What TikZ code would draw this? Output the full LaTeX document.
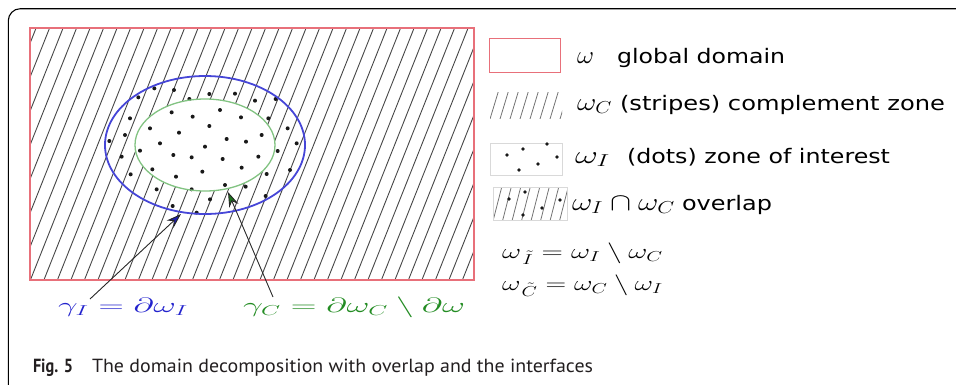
\documentclass[tikz,border=0pt]{standalone}
\usepackage{fontspec}
\usepackage{graphicx}
\usetikzlibrary{arrows.meta}
\newfontfamily\legfont{DejaVu Sans}
\newfontfamily\capfont{PT Sans}
\definecolor{domred}{RGB}{232,112,122}
\definecolor{ellblue}{RGB}{70,70,215}
\definecolor{ellgreen}{RGB}{130,195,130}
\definecolor{labblue}{RGB}{35,35,205}
\definecolor{labgreen}{RGB}{35,140,35}
\definecolor{headblue}{RGB}{30,30,170}
\definecolor{headgreen}{RGB}{30,115,30}
\definecolor{capgray}{RGB}{35,31,32}
\newcommand{\fitw}[2]{\resizebox{#1pt}{\height}{#2}}
\tikzset{
  stripe/.style={draw=black!72, line width=0.9pt},
  swstripe/.style={draw=black!55, line width=0.8pt},
  dotm/.style={fill=black!90},
  lbl/.style={anchor=base west, inner sep=0pt, outer sep=0pt},
  swbox/.style={draw=black!15, line width=0.8pt},
  ptr/.style={draw=black!85, line width=0.9pt},
}
\begin{document}
\begin{tikzpicture}[x=1pt,y=-1pt]
\useasboundingbox (0,0) rectangle (956,384);
% outer frame
\begin{scope}
\clip (0,0) rectangle (956,384);
\draw[line width=1.1pt, rounded corners=12pt] (8.3,8.7) rectangle (1000,400);
\end{scope}
% stripes in global domain
\begin{scope}
\clip (30,28) rectangle (474,280);
\foreach \i in {-9,...,34} \draw[stripe] ({30+\i*13.5},281) -- ++(101,-254);
\end{scope}
% zone of interest interior (no stripes)
\fill[white] (205,145) ellipse (70 and 46);
% dots
\begin{scope}[shift={(100,60)}, scale=0.33333]
\foreach \p in {(163,85),(222,90),(268,117),(328,102),(405,101),(465,122),(527,117),
  (115,112),(90,175),(75,225),(28,243),(65,290),(92,343),(170,388),(218,438),
  (290,458),(330,418),(437,380),(497,408),(275,388),
  (500,342),(533,273),(563,205),(590,250),(570,330),(505,175),
  (215,157),(278,170),(360,150),(423,172),(150,205),(237,218),(328,198),(485,225),
  (180,250),(380,237),(438,245),(315,260),(220,285),(275,292),(368,297),(475,290),
  (120,272),(157,328),(228,350),(307,335),(425,323),(375,375)}
  \fill[dotm] \p circle (6);
\end{scope}
% ellipses
\draw[ellgreen, line width=1.3pt] (205,145) ellipse (70 and 46);
\draw[ellblue, line width=1.8pt] (205,145) ellipse (100 and 69);
% global domain border
\draw[domred, line width=1.2pt] (30,28) rectangle (474,280);

% interface labels
\node[lbl, text=labblue] (gI) at (58,312) {\fontsize{22}{26}\selectfont\fitw{130}{$\gamma_I=\partial\omega_I$}};
\node[lbl, text=labgreen] (gC) at (243,312) {\fontsize{22}{26}\selectfont\fitw{222}{$\gamma_C=\partial\omega_C\setminus\partial\omega$}};
\coordinate (bstart) at (90,299);
\coordinate (btip) at (181,214);
\coordinate (gstart) at (273,297);
\coordinate (gtip) at (228,192);
\draw[ptr, -{Stealth[length=15pt, width=10pt, fill=headblue]}] (bstart) -- (btip);
\draw[ptr, -{Stealth[length=15pt, width=10pt, fill=headgreen]}] (gstart) -- (gtip);

% legend swatches
\node[draw=domred, line width=1.2pt, minimum width=71pt, minimum height=34pt, inner sep=0, anchor=north west] (sw1) at (489,38) {};
\begin{scope}
\clip (490,92) rectangle (562,118);
\foreach \i in {-1,...,8} \draw[swstripe] ({490+\i*10},119) -- ++(8.5,-28);
\end{scope}
\coordinate (sw2) at (490,92);
\node[swbox, minimum width=72pt, minimum height=32pt, inner sep=0, anchor=north west] (sw3) at (490,143) {};
\foreach \p in {(507,155),(523,149),(547,144),(557,157),(519,170),(538,164)}
  \fill[dotm] \p circle (1.9);
\begin{scope}
\clip (493,187) rectangle (567,220);
\foreach \i in {-1,...,8} \draw[swstripe] ({493+\i*9.5},221) -- ++(9,-35);
\end{scope}
\node[swbox, minimum width=74pt, minimum height=33pt, inner sep=0, anchor=north west] (sw4) at (493,187) {};
\foreach \p in {(509,199),(525,192),(523,215),(542,208),(560,200)}
  \fill[dotm] \p circle (1.9);

% legend texts
\node[lbl] (l1m) at (577,63) {\fontsize{23}{27}\selectfont\fitw{17}{$\omega$}};
\node[lbl] (l1t) at (617,63) {\legfont\fontsize{20}{24}\selectfont\fitw{168}{global domain}};
\node[lbl] (l2m) at (577,110) {\fontsize{23}{27}\selectfont\fitw{35}{$\omega_C$}};
\node[lbl] (l2t) at (620,110) {\legfont\fontsize{20}{24}\selectfont\fitw{325}{(stripes) complement zone}};
\node[lbl] (l3m) at (575,163) {\fontsize{23}{27}\selectfont\fitw{35}{$\omega_I$}};
\node[lbl] (l3t) at (627,163) {\legfont\fontsize{20}{24}\selectfont\fitw{263}{(dots) zone of interest}};
\node[lbl] (l4m) at (572,210) {\fontsize{23}{27}\selectfont\fitw{103}{$\omega_I\cap\omega_C$}};
\node[lbl] (l4t) at (682,210) {\legfont\fontsize{20}{24}\selectfont\fitw{90}{overlap}};
\node[lbl] (l5) at (502,258) {\fontsize{21}{25}\selectfont\fitw{161}{$\omega_{\mkern2mu\tilde{I}}=\omega_I\setminus\omega_C$}};
\node[lbl] (l6) at (502,290) {\fontsize{21}{25}\selectfont\fitw{161}{$\omega_{\mkern2mu\tilde{C}}=\omega_C\setminus\omega_I$}};

% caption
\node[lbl, text=capgray] (capA) at (33,372) {\capfont\bfseries\fontsize{19}{23}\selectfont\fitw{40}{Fig. 5}};
\node[lbl, text=capgray] (capB) at (92,372) {\capfont\fontsize{19}{23}\selectfont\fitw{501}{The domain decomposition with overlap and the interfaces}};
\end{tikzpicture}
\end{document}
